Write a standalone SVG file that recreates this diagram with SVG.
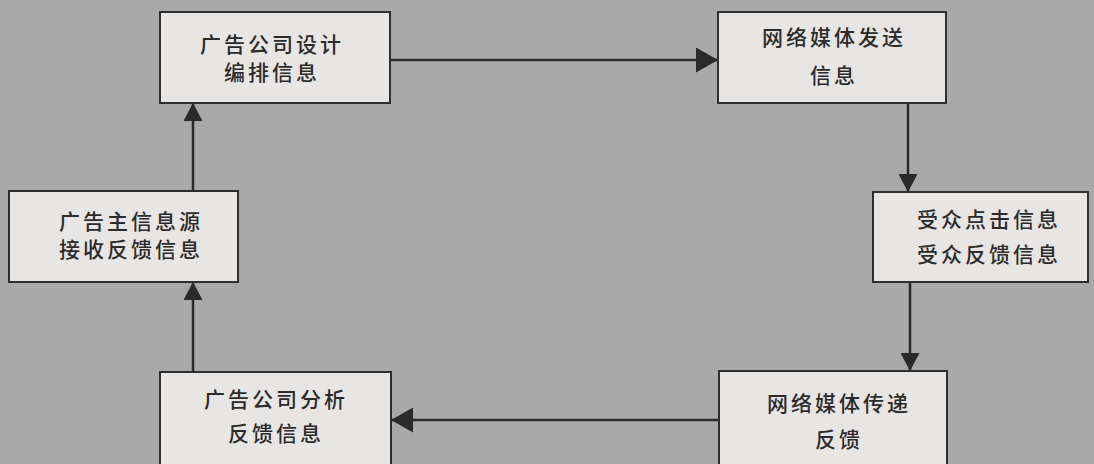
<svg xmlns="http://www.w3.org/2000/svg" width="1094" height="464" viewBox="0 0 1094 464">
<style>
.box{fill:#e8e6e4;stroke:#2e2e2e;stroke-width:2}
.t{font-family:"Noto Sans CJK SC","Noto Sans",sans-serif;font-size:21px;font-weight:500;fill:#2b2b2b;text-anchor:middle;dominant-baseline:central;letter-spacing:3px}
.c{stroke:#2a2a2a;stroke-width:2.5;fill:none;marker-end:url(#av)}
.h{marker-end:url(#ah)}
</style>
<defs>
<marker id="ah" viewBox="0 0 10 10" refX="10" refY="5" markerUnits="userSpaceOnUse" markerWidth="22" markerHeight="25" orient="auto" preserveAspectRatio="none">
<path d="M0,0 L10,5 L0,10 Z" fill="#2a2a2a"/>
</marker>
<marker id="av" viewBox="0 0 10 10" refX="10" refY="5" markerUnits="userSpaceOnUse" markerWidth="18" markerHeight="19" orient="auto" preserveAspectRatio="none">
<path d="M0,0 L10,5 L0,10 Z" fill="#2a2a2a"/>
</marker>
</defs>
<rect width="1094" height="464" fill="#a9a9a9"/>
<g id="connectors">
<line class="c h" x1="390" y1="60" x2="718" y2="60"/>
<line class="c" x1="908" y1="103" x2="908" y2="192"/>
<line class="c" x1="910" y1="282" x2="910" y2="371"/>
<line class="c h" x1="719" y1="420" x2="391" y2="420"/>
<line class="c" x1="193" y1="372" x2="193" y2="282"/>
<line class="c" x1="193" y1="191" x2="193" y2="103"/>
</g>
<g id="n1">
<rect class="box" x="160" y="12" width="230" height="91"/>
<text class="t" x="272" y="43">广告公司设计</text>
<text class="t" x="272" y="71">编排信息</text>
</g>
<g id="n2">
<rect class="box" x="718" y="12" width="228" height="91"/>
<text class="t" x="834" y="36">网络媒体发送</text>
<text class="t" x="834" y="74">信息</text>
</g>
<g id="n3">
<rect class="box" x="9" y="191" width="229" height="91"/>
<text class="t" x="131" y="220">广告主信息源</text>
<text class="t" x="131" y="248">接收反馈信息</text>
</g>
<g id="n4">
<rect class="box" x="873" y="192" width="215" height="90"/>
<text class="t" x="989" y="218">受众点击信息</text>
<text class="t" x="989" y="253">受众反馈信息</text>
</g>
<g id="n5">
<rect class="box" x="160" y="372" width="231" height="100"/>
<text class="t" x="276" y="398">广告公司分析</text>
<text class="t" x="276" y="432">反馈信息</text>
</g>
<g id="n6">
<rect class="box" x="719" y="371" width="228" height="100"/>
<text class="t" x="839" y="402">网络媒体传递</text>
<text class="t" x="839" y="438">反馈</text>
</g>
</svg>
